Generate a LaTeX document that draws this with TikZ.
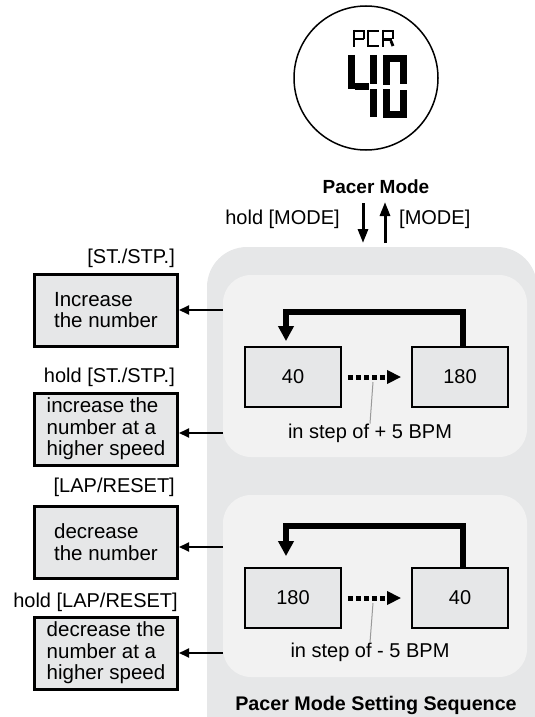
\documentclass[tikz,border=0pt]{standalone}
\usepackage{fontspec}
\setmainfont{Liberation Sans}
\usetikzlibrary{arrows.meta}
\definecolor{panelgray}{HTML}{E6E7E8}
\definecolor{innergray}{HTML}{F2F2F2}
\definecolor{boxgray}{HTML}{E6E7E8}
\definecolor{tickgray}{HTML}{9A9A9A}
\begin{document}
\begin{tikzpicture}[x=1pt,y=-1pt,
  txt/.style={font=\fontsize{20}{22}\selectfont, inner sep=0},
  btxt/.style={font=\fontsize{19}{22}\selectfont\bfseries, inner sep=0},
  keybox/.style={draw, line width=3pt, fill=boxgray, minimum width=143pt,
    minimum height=72pt, inner sep=0, align=left,
    font=\fontsize{20.5}{21.5}\selectfont},
  numbox/.style={draw, line width=1.8pt, fill=boxgray, minimum width=96pt,
    minimum height=60pt, inner sep=0, font=\fontsize{20}{22}\selectfont},
  loop/.style={line width=6pt, line join=miter,
    -{Triangle[width=15pt,length=15pt]}},
  stepper/.style={line width=5pt, dash pattern=on 5pt off 3pt,
    -{Triangle[width=13pt,length=14pt]}},
  sidearrow/.style={line width=1.8pt, -{Triangle[width=9pt,length=10pt]}},
  modearrow/.style={line width=3pt, -{Triangle[width=10pt,length=14pt]}},
  bigseg/.style={line width=7pt},
  smallseg/.style={line width=2.8pt},
]
\useasboundingbox (0,0) rectangle (535,717);
\clip (0,0) rectangle (535,717);

% background panels
\fill[panelgray, rounded corners=40pt] (207,247) rectangle (537,760);
\fill[innergray, rounded corners=28pt] (223,275) rectangle (527,457);
\fill[innergray, rounded corners=28pt] (223,495) rectangle (527,677);

% watch display
\node[circle, draw, line width=1.5pt, fill=white, minimum size=144pt,
  inner sep=0] (watch) at (366,78) {};
% "PCR" segments
\draw[smallseg] (354,30) -- (354,47);
\draw[smallseg] (353,31) -- (365,31);
\draw[smallseg] (364,31) -- (364,39);
\draw[smallseg] (354,39) -- (364,39);
\draw[smallseg] (368,30) -- (368,47);
\draw[smallseg] (367,31) -- (379,31);
\draw[smallseg] (367,46) -- (379,46);
\draw[smallseg] (383,30) -- (383,47);
\draw[smallseg] (382,31) -- (394,31);
\draw[smallseg] (393,31) -- (393,39);
\draw[smallseg] (383,39.5) -- (392,39.5);
\draw[smallseg] (391,41) -- (393,46);
% "4"
\draw[bigseg] (351.5,55) -- (351.5,89);
\draw[bigseg] (355,86) -- (369,86);
\draw[bigseg] (373,55) -- (373,84);
\draw[bigseg] (373,89) -- (373,117);
% "0"
\draw[bigseg] (383,58.5) -- (407,58.5);
\draw[bigseg] (386.5,62) -- (386.5,85);
\draw[bigseg] (386.5,89) -- (386.5,112);
\draw[bigseg] (403.5,62) -- (403.5,84);
\draw[bigseg] (403.5,90) -- (403.5,112);
\draw[bigseg] (383,114.5) -- (407,114.5);

\node[btxt] (mode) at (376,187) {Pacer Mode};

% mode switching arrows
\coordinate (dtop) at (363,203);
\coordinate (dbot) at (363,243);
\coordinate (utop) at (385,202);
\coordinate (ubot) at (385,243);
\draw[modearrow] (dtop) -- (dbot);
\draw[modearrow] (ubot) -- (utop);
\node[txt, anchor=east] (holdmode) at (340,219) {hold [MODE]};
\node[txt, anchor=west] (pressmode) at (399,219) {[MODE]};

% increasing sequence
\node[numbox] (a40) at (293,377) {40};
\node[numbox] (a180) at (460,377) {180};
\draw[loop] ([xshift=3pt]a180.north) -- ++(0,-34) -| ([xshift=-7pt,yshift=5pt]a40.north);
\draw[stepper] ([xshift=6pt]a40.east) -- ([xshift=-10pt]a180.west);
\node[txt] (upstep) at (370,433) {in step of + 5 BPM};
\draw[tickgray, line width=1pt] (373,382) -- (upstep.north);

% decreasing sequence
\node[numbox] (b180) at (293,598) {180};
\node[numbox] (b40) at (460,598) {40};
\draw[loop] ([xshift=3pt]b40.north) -- ++(0,-41) -| ([xshift=-7pt,yshift=11pt]b180.north);
\draw[stepper] ([xshift=6pt]b180.east) -- ([xshift=-10pt]b40.west);
\node[txt] (downstep) at (370,652) {in step of - 5 BPM};
\draw[tickgray, line width=1pt] (373,603) -- (downstep.north);

\node[btxt, font=\fontsize{19.7}{22}\selectfont\bfseries] (title) at (376,705) {Pacer Mode Setting Sequence};

% button actions
\coordinate (pl) at (223,0);
\node[txt, anchor=east] (l1) at (175,258) {[ST./STP.]};
\node[keybox] (k1) at (106,310) {Increase\\the number};
\node[txt, anchor=east] (l2) at (175,377) {hold [ST./STP.]};
\node[keybox] (k2) at (106,429) {increase the\\number at a\\higher speed};
\node[txt, anchor=east] (l3) at (175,487) {[LAP/RESET]};
\node[keybox] (k3) at (106,542) {decrease\\the number};
\node[txt, anchor=east] (l4) at (178,602) {hold [LAP/RESET]};
\node[keybox] (k4) at (106,653) {decrease the\\number at a\\higher speed};

\draw[sidearrow] (pl |- k1.east) -- (k1.east);
\draw[sidearrow] ([yshift=-4pt]pl |- k2.east) -- ([yshift=-4pt]k2.east);
\draw[sidearrow] ([yshift=-5pt]pl |- k3.east) -- ([yshift=-5pt]k3.east);
\draw[sidearrow] (pl |- k4.east) -- (k4.east);
\end{tikzpicture}
\end{document}
